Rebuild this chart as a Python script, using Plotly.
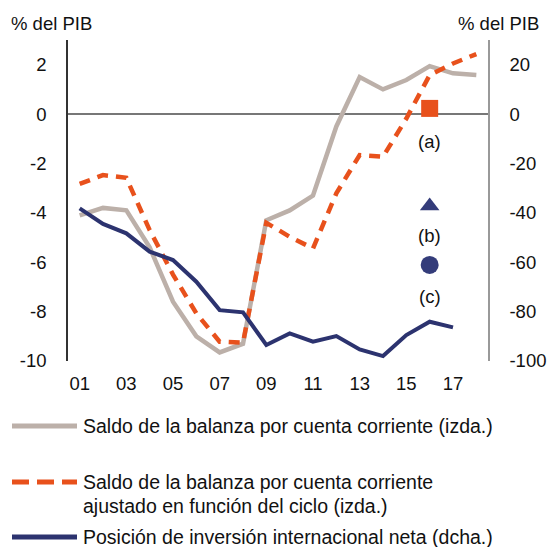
import plotly.graph_objects as go

# ---------------- data ----------------
years = list(range(2001, 2019))
cuenta_corriente = [-4.1, -3.8, -3.9, -5.4, -7.6, -9.0, -9.65, -9.3, -4.3, -3.9,
                    -3.3, -0.5, 1.5, 1.0, 1.38, 1.94, 1.65, 1.58]
ajustado_ciclo = [-2.83, -2.47, -2.58, -4.7, -6.5, -8.07, -9.22, -9.26, -4.4, -4.97,
                  -5.44, -3.21, -1.66, -1.73, -0.18, 1.58, 2.05, 2.43]
years_pii = list(range(2001, 2018))
pii_neta = [-38.2, -44.5, -48.3, -55.7, -59.1, -67.9, -79.4, -80.3, -93.5, -88.8,
            -92.2, -89.9, -95.3, -98.0, -89.5, -84.1, -86.4]

marker_year = [2016]
marker_a = [0.23]      # left axis
marker_b = [-37.2]     # right axis
marker_c = [-61.1]     # right axis

tick_years = [2001, 2003, 2005, 2007, 2009, 2011, 2013, 2015, 2017]
tick_text = ["01", "03", "05", "07", "09", "11", "13", "15", "17"]
left_ticks = [-10, -8, -6, -4, -2, 0, 2]
left_text = ["-10", "-8", "-6", "-4", "-2", "0", "2"]
right_ticks = [-100, -80, -60, -40, -20, 0, 20]
right_text = ["-100", "-80", "-60", "-40", "-20", "0", "20"]

legend_lines = [
    ["Saldo de la balanza por cuenta corriente (izda.)"],
    ["Saldo de la balanza por cuenta corriente",
     "ajustado en función del ciclo (izda.)"],
    ["Posición de inversión internacional neta (dcha.)"],
]

# ---------------- style ----------------
GRAY = "#BCB0A9"
ORANGE = "#E8511C"
NAVY = "#2C336F"
NAVY_M = "#343C7A"
FONT = "Liberation Sans, Arial, sans-serif"
TXT = "#111111"
TICK_SIZE = 18.5
LEG_SIZE = 19.5

fig = go.Figure()
fig.add_trace(go.Scatter(x=years, y=cuenta_corriente, mode="lines",
                         line=dict(color=GRAY, width=4.5), showlegend=False))
fig.add_trace(go.Scatter(x=years, y=ajustado_ciclo, mode="lines",
                         line=dict(color=ORANGE, width=4.5, dash="11px,8px"),
                         showlegend=False))
fig.add_trace(go.Scatter(x=years_pii, y=pii_neta, mode="lines", yaxis="y2",
                         line=dict(color=NAVY, width=4), showlegend=False))
fig.add_trace(go.Scatter(x=marker_year, y=marker_a, mode="markers",
                         marker=dict(symbol="square", size=17, color=ORANGE),
                         showlegend=False))
fig.add_trace(go.Scatter(x=marker_year, y=marker_b, mode="markers", yaxis="y2",
                         marker=dict(symbol="triangle-up", size=17, color=NAVY_M),
                         showlegend=False))
fig.add_trace(go.Scatter(x=marker_year, y=marker_c, mode="markers", yaxis="y2",
                         marker=dict(symbol="circle", size=18, color=NAVY_M),
                         showlegend=False))

# plot area in pixels: x 68..488, y 40..361
L, R, T, B = 68, 59, 40, 186
PW, PH = 547 - L - R, 547 - T - B


def px(xp):
    return (xp - L) / PW


def py(yp):
    return (547 - B - yp) / PH


tick_font = dict(size=TICK_SIZE, color=TXT, family=FONT)
leg_font = dict(size=LEG_SIZE, color=TXT, family=FONT)

annotations = [
    dict(text="% del PIB", x=px(9), y=py(23), xanchor="left", yanchor="middle",
         font=tick_font),
    dict(text="% del PIB", x=px(541), y=py(23), xanchor="right", yanchor="middle",
         font=tick_font),
]
for lbl, yv in [("(a)", -1.12), ("(b)", -4.9), ("(c)", -7.4)]:
    annotations.append(dict(text=lbl, x=2016, y=yv, xref="x", yref="y",
                            xanchor="center", yanchor="middle", showarrow=False,
                            font=tick_font))

shapes = []
leg_text_y = [[426], [482, 506], [537]]
leg_style = [dict(color=GRAY, width=5),
             dict(color=ORANGE, width=5, dash="17px,8px"),
             dict(color=NAVY, width=5)]
for lines, ys, st in zip(legend_lines, leg_text_y, leg_style):
    shapes.append(dict(type="line", xref="paper", yref="paper",
                       x0=px(12), x1=px(77), y0=py(ys[0]), y1=py(ys[0]), line=st))
    for line, ty in zip(lines, ys):
        annotations.append(dict(text=line, x=px(81), y=py(ty), xanchor="left",
                                yanchor="middle", align="left", font=leg_font))

for a in annotations:
    a.setdefault("xref", "paper")
    a.setdefault("yref", "paper")
    a.setdefault("showarrow", False)

axis_common = dict(showgrid=False, automargin=False, tickfont=tick_font,
                   tickcolor="rgba(0,0,0,0)", ticks="outside")

fig.update_layout(
    template="none",
    width=547, height=547,
    margin=dict(l=L, r=R, t=T, b=B, pad=0),
    paper_bgcolor="white", plot_bgcolor="white",
    font=dict(family=FONT, size=TICK_SIZE, color=TXT),
    showlegend=False,
    hovermode=False,
    xaxis=dict(range=[2000.5, 2018.5], tickvals=tick_years, ticktext=tick_text,
               zeroline=False, showline=False, ticklen=6, **axis_common),
    yaxis=dict(range=[-10, 3], tickvals=left_ticks, ticktext=left_text,
               zeroline=True, zerolinecolor="#777", zerolinewidth=1.5,
               showline=True, linecolor="#333", linewidth=1.5,
               ticklen=16, **axis_common),
    yaxis2=dict(range=[-100, 30], tickvals=right_ticks, ticktext=right_text,
                overlaying="y", side="right", zeroline=False,
                showline=True, linecolor="#999", linewidth=1.5,
                ticklen=16, **axis_common),
    annotations=annotations,
    shapes=shapes,
)

fig.write_html("out.html", config={"displayModeBar": False},
               post_script="document.body.style.margin='0';"
                           "document.body.style.overflow='hidden';")
